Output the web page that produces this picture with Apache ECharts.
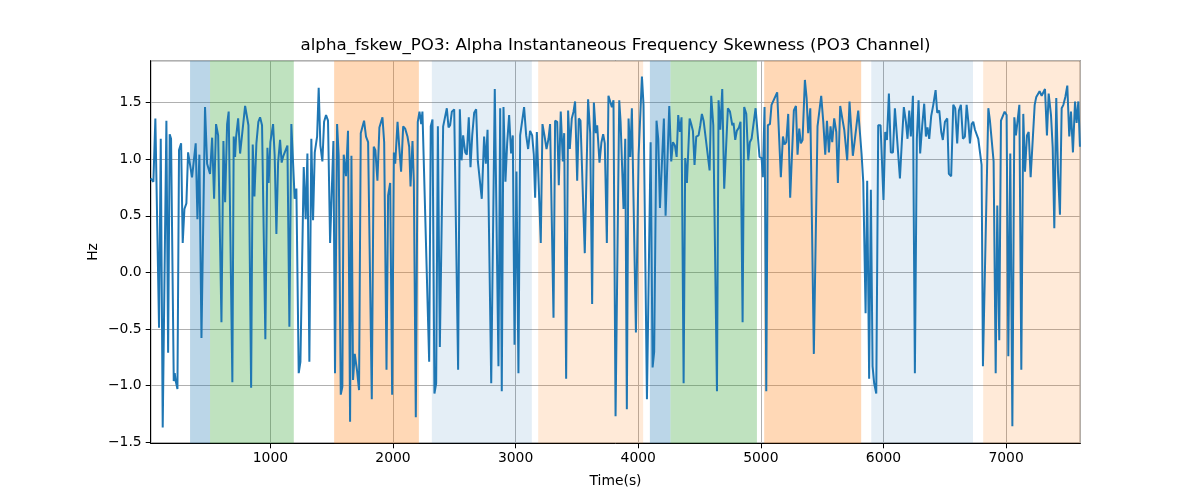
<!DOCTYPE html>
<html><head><meta charset="utf-8">
<script src="https://cdn.jsdelivr.net/npm/echarts@6/dist/echarts.min.js"></script>
<style>html,body{margin:0;padding:0;background:#fff}#c{width:1200px;height:500px}</style>
</head><body><div id="c"></div>
<script>
const titleText = 'alpha_fskew_PO3: Alpha Instantaneous Frequency Skewness (PO3 Channel)';
const xName = 'Time(s)';
const yName = 'Hz';

const times = [
24,46,62,92,106,122,152,166,179,190,212,220,228,242,255,272,285,299,315,329,342,361,391,405,421,438,467,484,495,508,525,541,557,574,601,617,631,647,660,690,701,712,720,737,753,767,794,821,843,856,870,886,902,916,
932,959,976,986,1000,1022,1035,1049,1063,1079,1092,1106,1122,1139,1155,1171,1185,1198,1212,1231,1245,1272,1288,1302,1318,1334,1348,1362,1381,1394,1408,1424,1438,1454,1470,1487,1514,1527,1544,1557,1574,1587,1598,1617,1633,1650,1661,1674,1688,1707,1723,1737,1750,1764,1780,1797,1810,1827,1843,1856,1873,1889,
1914,1928,1947,1960,1977,1993,2007,2018,2037,2050,2066,2083,2099,2118,2132,2143,2159,2170,2186,2202,2216,2230,2240,2295,2308,2322,2338,2352,2366,2382,2409,2425,2439,2453,2466,2480,2499,2531,2545,2559,2572,2589,2602,2618,2632,2646,2662,2678,2692,2705,2724,2743,2757,2771,2801,2830,
2860,2874,2887,2901,2917,2931,2947,2963,2977,2991,3007,3023,3037,3069,3086,3102,3118,3135,3148,3159,3173,3205,3219,3235,3252,3268,3281,3309,3322,3339,3352,3368,3385,3396,3412,3428,3442,3458,3472,3485,3502,3515,3529,3564,3591,3608,3624,3638,3654,3665,3684,3700,3714,3727,3744,3757,3771,3785,3798,3815,
3845,3856,3880,3894,3907,3921,3935,3948,3981,4003,4030,4043,4071,4101,4117,4130,4149,4163,4177,4209,4223,4253,4269,4283,4299,4313,4326,4340,4353,4370,4383,4397,4419,4432,4446,4459,4473,4492,4506,4519,4533,4549,4582,4595,4612,4642,4655,4669,4685,4701,4731,4748,4767,
4777,4791,4804,4821,4834,4851,4864,4881,4897,4910,4924,4957,4989,5006,5016,5030,5044,5057,5074,5087,5103,5133,5163,5180,5193,5207,5223,5239,5269,5286,5299,5313,5326,5340,5359,5373,5386,5403,5432,5462,5476,5492,5509,5525,5539,5555,5568,5582,5598,5615,5628,5647,5664,5680,5704,5723,
5750,5764,5780,5794,5821,5835,5854,5867,5883,5897,5911,5924,5941,5957,5976,6000,6014,6028,6044,6060,6077,6093,6109,6134,6150,6166,6183,6196,6210,6223,6240,6256,6272,6286,6299,6316,6332,6346,6359,6373,6389,6406,6425,6438,6455,6471,6484,6501,6520,6533,6552,6569,6585,6601,6615,6631,6648,6664,6678,
6692,6705,6719,6732,6746,6760,6773,6787,6800,6811,6855,6868,6882,6898,6915,6928,6944,6958,6974,6988,7004,7018,7034,7051,7067,7080,7094,7108,7124,7140,7154,7170,7184,7200,7233,7246,7260,7273,7290,7303,7317,7333,7347,7366,7380,7393,7409,7423,7439,7453,7467,7483,7499,7515,7529,7545,7562,7575,7589,7602
];

const values = [
0.83,0.80,1.36,-0.49,1.18,-1.37,1.34,-0.71,1.22,1.18,-0.96,-0.89,-0.96,-1.03,1.08,1.14,0.26,0.56,0.61,1.06,1.05,0.84,1.14,0.47,1.04,-0.58,1.46,0.96,0.97,0.87,1.19,0.65,1.31,1.21,-0.44,1.16,0.62,1.31,1.42,-0.97,1.20,1.02,1.19,1.36,1.05,1.04,1.47,1.30,-1.02,1.13,0.67,1.14,1.33,1.37,
1.30,-0.59,1.10,0.79,1.15,1.31,1.03,0.34,0.97,1.17,0.97,1.03,1.04,1.12,-0.48,1.31,1.30,0.65,0.74,-0.89,-0.79,0.93,0.47,1.05,-0.79,1.18,0.46,1.06,1.20,1.63,1.12,0.98,1.33,1.39,1.34,0.26,1.16,-0.89,1.31,1.03,-1.08,-1.01,1.04,0.85,1.25,-1.32,1.03,-0.95,-0.72,-0.87,-1.04,1.23,1.22,1.34,1.20,1.15,1.16,-1.12,1.11,1.08,0.81,1.28,
1.37,1.15,-0.86,0.68,0.79,-1.08,1.06,0.96,1.33,1.12,0.89,1.29,1.27,1.20,1.11,0.76,1.16,0.80,-1.28,1.33,1.42,1.31,1.42,-0.79,1.29,1.35,-1.07,-0.98,1.29,-0.66,1.29,1.28,1.45,1.28,1.30,1.42,1.44,-0.86,1.44,0.99,1.21,1.06,1.04,1.37,0.93,1.21,1.41,1.44,0.98,0.97,0.65,1.20,0.96,1.26,-0.98,1.62,
-0.83,1.45,-1.05,1.46,0.80,1.14,1.39,1.05,1.21,-0.64,0.89,-0.89,1.21,1.46,1.21,1.09,1.25,1.21,1.04,0.66,1.24,0.26,1.31,1.21,1.09,1.18,1.31,-0.40,1.34,1.33,0.77,1.42,0.98,1.23,-0.94,1.43,1.09,1.36,1.42,1.51,0.81,1.36,1.34,0.17,1.53,1.23,-0.28,1.50,1.23,1.30,0.97,1.15,1.22,1.14,0.26,1.56,1.51,1.46,1.52,-1.27,
1.52,1.33,0.56,1.18,-1.21,1.36,1.02,1.45,-0.53,1.04,1.73,1.48,-1.12,1.15,-0.84,-0.70,1.34,1.18,0.57,1.36,0.50,1.47,0.98,1.15,1.12,1.02,1.39,1.24,1.37,-0.98,1.01,0.79,1.36,1.31,1.25,0.95,1.20,1.21,1.30,1.40,1.34,1.33,0.90,1.56,1.30,-1.05,1.52,1.26,1.62,0.74,1.45,1.42,1.30,
1.32,1.17,1.25,1.28,1.33,-0.44,1.46,1.40,0.99,1.15,1.18,1.45,1.02,1.01,0.84,1.46,-1.05,1.30,1.31,1.48,1.48,1.59,0.84,1.20,1.13,1.15,1.40,0.66,1.43,1.47,1.04,1.27,1.14,1.17,1.70,1.54,1.23,1.45,-0.72,1.29,1.30,1.56,1.33,1.04,1.34,1.06,1.29,1.15,1.36,1.24,0.79,1.47,1.36,1.26,0.99,1.51,
1.03,1.15,1.30,1.43,1.05,0.80,-0.36,0.81,-0.94,0.73,-0.83,-0.98,-1.07,1.30,1.30,0.64,1.24,1.17,1.58,1.06,1.06,1.45,1.21,0.83,1.16,1.46,1.33,1.18,1.43,1.20,1.56,-0.89,1.18,1.52,1.05,1.30,1.49,1.20,1.28,1.18,1.38,1.48,1.61,1.41,1.43,1.24,1.17,1.33,1.36,0.87,0.85,1.48,1.45,1.14,1.43,1.48,1.18,1.20,1.48,
1.33,1.14,1.31,1.33,1.26,1.27,1.18,1.06,0.95,-0.83,1.45,1.34,1.33,0.98,-0.89,0.59,-0.60,1.34,1.34,1.42,1.39,-0.74,1.05,-1.36,1.37,1.21,1.21,1.48,-0.86,1.40,0.89,1.21,1.24,0.84,1.48,1.55,1.55,1.60,1.56,1.57,1.62,1.21,1.58,1.39,1.10,0.39,1.54,0.89,0.51,1.45,1.48,1.55,1.65,1.20,1.42,1.06,1.51,1.32,1.51,1.11
];

const spanStarts = [345, 508, 1520, 2317, 3184, 4095, 4263, 5027, 5900, 6813];
const spanEnds   = [508, 1191, 2211, 3132, 4040, 4263, 4968, 5818, 6730, 7605];
const spanKinds  = ['blue','green','orange','lightblue','lightorange','blue','green','orange','lightblue','lightorange'];

const xMin = 24, xMax = 7605, yMin = -1.51, yMax = 1.87;

const kindColors = {
  blue: 'rgba(31,119,180,0.3)',
  green: 'rgba(44,160,44,0.3)',
  orange: 'rgba(255,127,14,0.3)',
  lightblue: 'rgba(31,119,180,0.12)',
  lightorange: 'rgba(255,127,14,0.16)'
};

const n = Math.min(times.length, values.length);
const lineData = [];
for (let i = 0; i < n; i++) lineData.push([times[i], values[i]]);

const areas = spanStarts.map((s, i) => [
  { xAxis: s, itemStyle: { color: kindColors[spanKinds[i]] } },
  { xAxis: spanEnds[i] }
]);

const FONT = 'DejaVu Sans';
const L = 150.7, R = 1080.3, T = 60.7, B = 443.3;

const chart = echarts.init(document.getElementById('c'), null, { renderer: 'canvas' });
chart.setOption({
  animation: false,
  backgroundColor: '#fff',
  grid: { left: L, right: 1200 - R, top: T, bottom: 500 - B, show: true, borderColor: '#000', borderWidth: 1, backgroundColor: 'transparent' },
  xAxis: {
    type: 'value', min: xMin, max: xMax, splitNumber: 7,
    axisLine: { show: true, onZero: false, lineStyle: { color: '#000', width: 1 } },
    axisTick: { show: true, length: 5, lineStyle: { color: '#000' } },
    axisLabel: { show: true, margin: 8, color: '#000', fontFamily: FONT, fontSize: 13.9, showMinLabel: false, showMaxLabel: false,
      formatter: v => String(Math.round(v)) },
    splitLine: { show: true, lineStyle: { color: '#b0b0b0', width: 1 } }
  },
  yAxis: {
    type: 'value', min: yMin, max: yMax, splitNumber: 7,
    axisLine: { show: true, onZero: false, lineStyle: { color: '#000', width: 1 } },
    axisTick: { show: true, length: 5, lineStyle: { color: '#000' } },
    axisLabel: { show: true, margin: 9, color: '#000', fontFamily: FONT, fontSize: 13.9, showMinLabel: false, showMaxLabel: false,
      formatter: v => v.toFixed(1).replace('-', '\u2212') },
    splitLine: { show: true, lineStyle: { color: '#b0b0b0', width: 1 } }
  },
  series: [
    { type: 'line', data: [], z: 1, silent: true,
      markArea: { silent: true, data: areas } },
    { type: 'line', data: lineData, z: 3, showSymbol: false, symbol: 'none', sampling: null,
      lineStyle: { color: '#1f77b4', width: 2 }, itemStyle: { color: '#1f77b4' } }
  ],
  graphic: [
    { type: 'text', x: (L + R) / 2, y: 46, style: { text: titleText, fill: '#000', font: '16.67px "DejaVu Sans"', textAlign: 'center', textVerticalAlign: 'middle' } },
    { type: 'text', x: (L + R) / 2, y: 481, style: { text: xName, fill: '#000', font: '13.9px "DejaVu Sans"', textAlign: 'center', textVerticalAlign: 'middle' } },
    { type: 'text', x: 93, y: (T + B) / 2, rotation: Math.PI / 2, style: { text: yName, fill: '#000', font: '13.9px "DejaVu Sans"', textAlign: 'center', textVerticalAlign: 'middle' } }
  ]
});
</script>
</body></html>
